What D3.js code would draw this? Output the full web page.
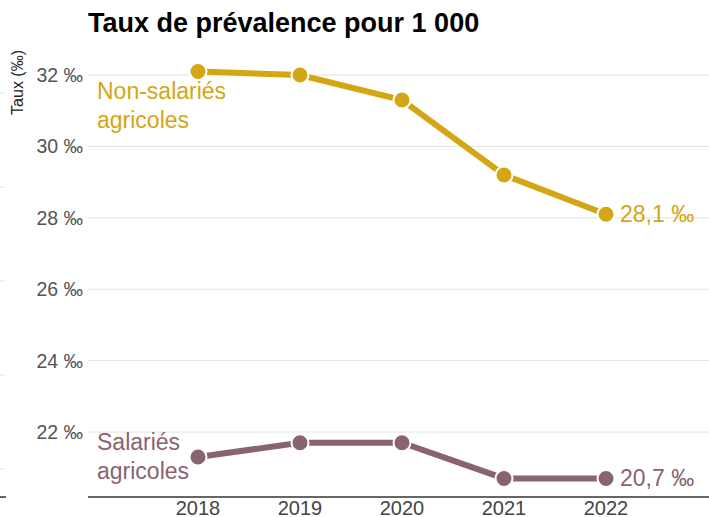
<!DOCTYPE html>
<html>
<head>
<meta charset="utf-8">
<script src="https://cdn.jsdelivr.net/npm/d3@7"></script>
<style>
  body { margin: 0; background: #fff; }
  text { font-family: "Liberation Sans", Arial, sans-serif; }
</style>
</head>
<body>
<div id="viz"></div>
<script>

// data
var years = [2018, 2019, 2020, 2021, 2022];
var nonSalaries = [32.1, 32.0, 31.3, 29.2, 28.1];
var salaries = [21.3, 21.7, 21.7, 20.7, 20.7];
var yTicks = [22, 24, 26, 28, 30, 32];
var seriesNames = [["Non-salariés", "agricoles"], ["Salariés", "agricoles"]];
var endLabels = ["28,1 ‰", "20,7 ‰"];

var W = 709, H = 517;
var _colors = { non: "#d5a613", sal: "#8a6370" };

var svg = d3.select("#viz")
    .append("svg")
    .attr("width", W)
    .attr("height", H);

var left = 88, bottom = 497;

var x = d3.scaleLinear()
    .domain([2018, 2022])
    .range([198, 606]);

var y = d3.scaleLinear()
    .domain([20.18, 32])
    .range([bottom, 75]);

// fragment of the neighbouring panel's grid on the far left
svg.selectAll("line.frag")
    .data([93, 187, 281, 375, 469])
    .enter()
    .append("line")
    .attr("x1", 0).attr("x2", 5)
    .attr("y1", function(d){ return d; })
    .attr("y2", function(d){ return d; })
    .style("stroke", "#e3e3e3");
svg.append("line")
    .attr("x1", 0).attr("x2", 6)
    .attr("y1", bottom).attr("y2", bottom)
    .style("stroke", "#333").style("stroke-width", 1.5);

// grid
svg.selectAll("line.grid")
    .data(yTicks)
    .enter()
    .append("line")
    .attr("class", "grid")
    .attr("x1", left).attr("x2", W)
    .attr("y1", function(d){ return y(d); })
    .attr("y2", function(d){ return y(d); })
    .style("stroke", "#e2e2e2")
    .style("stroke-width", 1);

svg.selectAll("text.ytick")
    .data(yTicks)
    .enter()
    .append("text")
    .attr("class", "ytick")
    .attr("x", 83)
    .attr("y", function(d){ return y(d) + 7; })
    .attr("text-anchor", "end")
    .style("font-size", "19.5px")
    .style("fill", "#555")
    .text(function(d){ return d + " ‰"; });

// x axis
svg.append("line")
    .attr("x1", left).attr("x2", W)
    .attr("y1", bottom).attr("y2", bottom)
    .style("stroke", "#333")
    .style("stroke-width", 1.5);

svg.selectAll("text.xtick")
    .data(years)
    .enter()
    .append("text")
    .attr("class", "xtick")
    .attr("x", function(d){ return x(d); })
    .attr("y", 515)
    .attr("text-anchor", "middle")
    .style("font-size", "20px")
    .style("fill", "#444")
    .text(function(d){ return d; });

// titles
svg.append("text")
    .attr("x", left)
    .attr("y", 32)
    .style("font-size", "27px")
    .style("font-weight", "bold")
    .style("fill", "#000")
    .text("Taux de prévalence pour 1 000");

svg.append("text")
    .attr("transform", "translate(23,50) rotate(-90)")
    .attr("text-anchor", "end")
    .style("font-size", "16px")
    .style("fill", "#222")
    .text("Taux (‰)");

// series
var series = [
    { vals: nonSalaries, color: _colors.non, name: seriesNames[0], end: endLabels[0], nameY: 99 },
    { vals: salaries, color: _colors.sal, name: seriesNames[1], end: endLabels[1], nameY: 450 }
];

var line = d3.line()
    .x(function(d, i){ return x(years[i]); })
    .y(function(d){ return y(d); });

series.forEach(function(s){
    svg.append("path")
        .attr("d", line(s.vals))
        .style("fill", "none")
        .style("stroke", s.color)
        .style("stroke-width", 6);

    svg.selectAll(null)
        .data(s.vals)
        .enter()
        .append("circle")
        .attr("cx", function(d, i){ return x(years[i]); })
        .attr("cy", function(d){ return y(d); })
        .attr("r", 8.5)
        .style("fill", s.color)
        .style("stroke", "#fff")
        .style("stroke-width", 2);

    svg.append("text")
        .attr("x", 97)
        .attr("y", s.nameY)
        .style("font-size", "23px")
        .style("fill", s.color)
        .selectAll("tspan")
        .data(s.name)
        .enter()
        .append("tspan")
        .attr("x", 97)
        .attr("dy", function(d, i){ return i ? 29 : 0; })
        .text(function(d){ return d; });

    svg.append("text")
        .attr("x", x(years[years.length - 1]) + 14)
        .attr("y", y(s.vals[s.vals.length - 1]) + 8)
        .style("font-size", "23px")
        .style("fill", s.color)
        .text(s.end);
});

</script>
</body>
</html>
